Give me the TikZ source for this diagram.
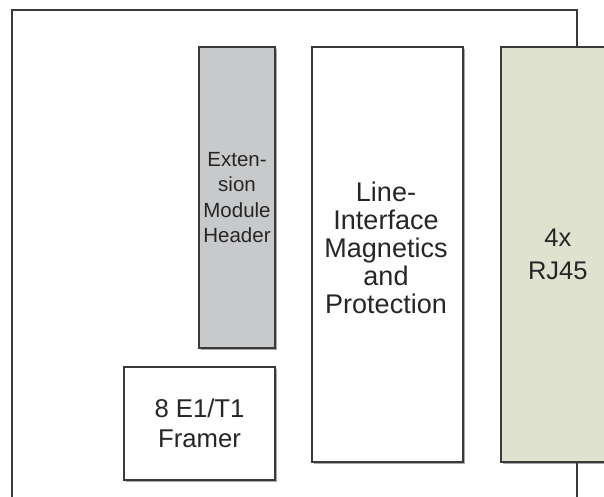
\documentclass[tikz,border=0pt]{standalone}
\usepackage{fontspec}
\setmainfont{Liberation Sans}
\usetikzlibrary{backgrounds,calc}
\definecolor{edge}{HTML}{3A3A3A}
\definecolor{hdrgrey}{HTML}{C8C9CB}
\definecolor{rjgreen}{HTML}{DEE2CF}
\definecolor{txt}{HTML}{262626}
\definecolor{shade}{HTML}{A8A8A8}
\begin{document}
\begin{tikzpicture}[x=1pt,y=-1pt,
  blk/.style={draw=edge,line width=1.2pt,inner sep=0pt,outer sep=0pt,align=center,text=txt},
  lbl/.style={inner sep=0pt,outer sep=0pt,align=center,text=txt},
  board/.style={draw=edge,line width=1.2pt},
  shadowbox/.style={fill=shade}
]
\useasboundingbox (0,0) rectangle (604,496);
\clip (0,0) rectangle (604,496);
\coordinate (bl) at (12,500);
\coordinate (tl) at (12,10);
\coordinate (tr) at (577,10);
\coordinate (br) at (577,500);
\draw[board] (bl) -- (tl) -- (tr) -- (br);

\node[blk,fill=hdrgrey,minimum width=76pt,minimum height=301pt,
  font={\fontsize{20.5}{25.2}\selectfont}] (hdr) at (237,197.5)
  {Exten-\\sion\\Module\\Header};

\node[blk,fill=white,minimum width=151pt,minimum height=415pt] (lim) at (387.5,254.5) {};
\node[lbl,font={\fontsize{27}{27.9}\selectfont}] (limtext) at (386,247.8)
  {Line-\\Interface\\Magnetics\\and\\Protection};

\node[blk,fill=rjgreen,minimum width=113.6pt,minimum height=415pt,
  font={\fontsize{25.5}{32.6}\selectfont}] (rj) at (557.8,254.5)
  {4x\\RJ45};

\node[blk,fill=white,minimum width=151pt,minimum height=113pt,
  font={\fontsize{25.7}{30.6}\selectfont}] (fr) at (199.5,423.5)
  {8 E1/T1\\Framer};

\begin{scope}[on background layer]
  \foreach \b in {hdr,lim,rj,fr}{
    \fill[shadowbox] ($(\b.south west)+(1.6,1.6)$) rectangle ($(\b.north east)+(1.6,1.6)$);
  }
\end{scope}
\end{tikzpicture}
\end{document}
